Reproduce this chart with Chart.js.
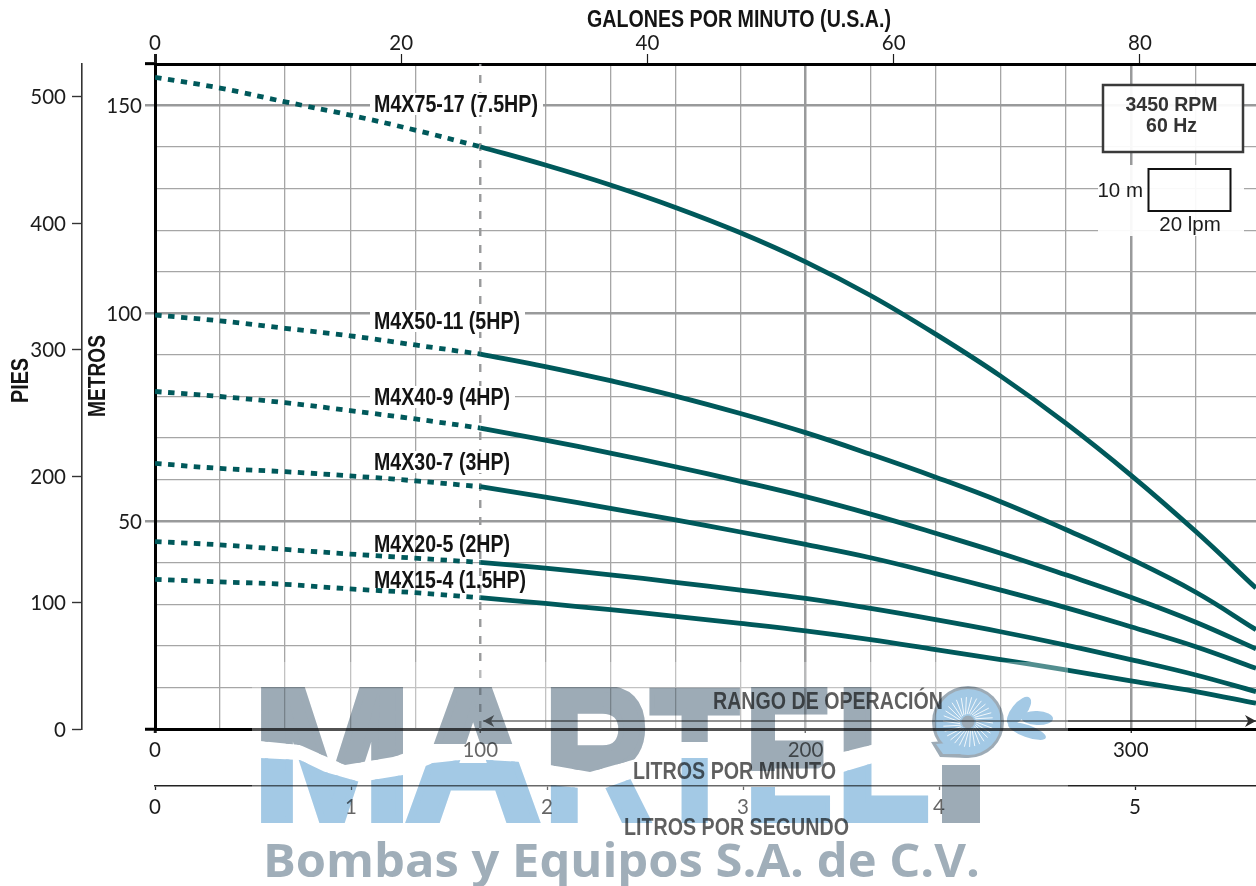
<!DOCTYPE html>
<html lang="es">
<head>
<meta charset="utf-8">
<title>Curvas M4X 3450 RPM</title>
<style>
    html, body { margin: 0; padding: 0; background: #fff; }
    canvas { display: block; }
</style>
<script src="https://cdn.jsdelivr.net/npm/chart.js@4/dist/chart.umd.js"></script>
</head>
<body>
<canvas id="chart" width="1256" height="886"></canvas>
<script>
/* =========================================
   1. Data
   ========================================= */
const lpmDashed = [0, 20, 40, 60, 80, 100];
const lpmSolid = [100, 120, 140, 160, 180, 200, 220, 240, 260, 280, 300, 320, 338.5];

const models = ['M4X75-17 (7.5HP)', 'M4X50-11 (5HP)', 'M4X40-9 (4HP)', 'M4X30-7 (3HP)', 'M4X20-5 (2HP)', 'M4X15-4 (1.5HP)'];

// Head in metres, dashed part up to 100 lpm
const m75Dashed = [156.8, 154.2, 150.9, 147.7, 144.1, 140.1];
const m50Dashed = [99.6, 98.2, 96.4, 94.6, 92.4, 90.2];
const m40Dashed = [81.2, 80.0, 78.5, 76.6, 74.6, 72.4];
const m30Dashed = [63.9, 62.7, 61.9, 60.9, 59.7, 58.3];
const m20Dashed = [45.1, 44.3, 43.2, 42.1, 41.1, 40.1];
const m15Dashed = [36.0, 35.4, 34.8, 33.7, 32.8, 31.6];

// Head in metres, operating range
const m75Solid = [140.1, 135.7, 130.9, 125.5, 119.4, 112.4, 104.3, 95.0, 84.9, 73.6, 61.1, 47.5, 33.9];
const m50Solid = [90.2, 87.2, 83.8, 80.1, 75.9, 71.3, 66.1, 60.6, 54.7, 48.0, 40.9, 32.9, 23.9];
const m40Solid = [72.4, 69.5, 66.4, 63.1, 59.6, 55.9, 51.7, 47.1, 42.3, 37.1, 31.7, 25.7, 19.3];
const m30Solid = [58.3, 55.8, 53.1, 50.3, 47.4, 44.4, 41.2, 37.4, 33.4, 29.2, 24.6, 19.8, 14.6];
const m20Solid = [40.1, 38.7, 37.1, 35.3, 33.4, 31.4, 29.0, 26.3, 23.4, 20.2, 16.7, 13.0, 9.0];
const m15Solid = [31.6, 30.2, 28.7, 27.1, 25.4, 23.6, 21.5, 19.1, 16.7, 14.2, 11.6, 9.0, 6.2];

const operatingRange = [100, 338.5];

/* =========================================
   2. Axis ranges and helpers
   ========================================= */
const LPM_MAX = 338.5;
const M_MAX = 160;
const FT_MAX = 526;
const TEAL = '#00595b';
const GRID = '#a6a6a6';
const GRID_DARK = '#999a9b';
const TICK_FONT = { family: 'Lato', size: 20.5 };
const TICK_COLOR = '#1c1c1c';

const pairs = (xs, ys) => xs.map((x, i) => ({ x: x, y: ys[i] }));

function curve(xs, ys, dashed) {
    return {
        data: pairs(xs, ys),
        borderColor: TEAL,
        borderWidth: 4.8,
        borderDash: dashed ? [6.5, 6.5] : [],
        borderCapStyle: 'butt',
        tension: 0.4,
        pointRadius: 0,
        fill: false,
        xAxisID: 'x',
        yAxisID: 'y'
    };
}

// Bold condensed label, squeezed to the width it has in the picture
function fitText(ctx, text, x, y, width, size) {
    ctx.save();
    ctx.font = 'bold ' + size + 'px "Liberation Sans"';
    ctx.textBaseline = 'middle';
    ctx.textAlign = 'left';
    const w = ctx.measureText(text).width;
    ctx.translate(x, y);
    ctx.scale(width / w, 1);
    ctx.fillText(text, 0, 2);
    ctx.restore();
}

// Logo is painted on its own layer, then multiplied over the chart
function buildLogo() {
    const layer = document.createElement('canvas');
    layer.width = 1256;
    layer.height = 886;
    const ctx = layer.getContext('2d');
    const GRAY = '#9dabb6';
    const BLUE = '#a3c9e5';

    // wave that splits the letters in two colours
    const waveTop = [[260, 741], [300, 745], [345, 765], [393, 757], [433, 744], [515, 744], [550, 765], [590, 772], [650, 755], [676, 742], [714, 742], [750, 771], [815, 771], [843, 752], [883, 742], [935, 742]];
    const waveLow = [[260, 758], [300, 760], [325, 772], [360, 782], [403, 775], [433, 763], [470, 759], [540, 763], [550, 785], [600, 790], [650, 772], [676, 758], [714, 758], [750, 787], [815, 787], [843, 772], [883, 760], [935, 760]];
    const letters = [['M', 264, 400], ['A', 409, 537], ['R', 553, 648], ['T', 652, 738], ['E', 753, 828], ['L', 846, 926]];

    function drawLetters(color) {
        ctx.fillStyle = color;
        ctx.strokeStyle = color;
        ctx.lineWidth = 7;
        ctx.lineJoin = 'miter';
        ctx.font = 'bold 190px "Liberation Sans"';
        ctx.textAlign = 'left';
        ctx.textBaseline = 'alphabetic';
        letters.forEach(l => {
            const m = ctx.measureText(l[0]);
            const h = m.actualBoundingBoxAscent + m.actualBoundingBoxDescent;
            const w = m.actualBoundingBoxLeft + m.actualBoundingBoxRight;
            ctx.save();
            ctx.translate(l[1], 820);
            ctx.scale((l[2] - l[1]) / w, 130 / h);
            ctx.fillText(l[0], m.actualBoundingBoxLeft, 0);
            ctx.strokeText(l[0], m.actualBoundingBoxLeft, 0);
            ctx.restore();
        });
    }

    ctx.save();
    ctx.beginPath();
    ctx.moveTo(250, 687);
    waveTop.forEach(p => ctx.lineTo(p[0], p[1]));
    ctx.lineTo(935, 687);
    ctx.closePath();
    ctx.clip();
    drawLetters(GRAY);
    ctx.restore();

    ctx.save();
    ctx.beginPath();
    ctx.moveTo(250, 823);
    waveLow.forEach(p => ctx.lineTo(p[0], p[1]));
    ctx.lineTo(935, 823);
    ctx.closePath();
    ctx.clip();
    drawLetters(BLUE);
    ctx.restore();

    // the I: stem plus pump as its dot
    ctx.fillStyle = GRAY;
    ctx.fillRect(942, 765, 38, 58);

    ctx.fillStyle = GRAY;
    ctx.beginPath();
    ctx.moveTo(931, 742);
    ctx.lineTo(946, 741);
    ctx.lineTo(968, 758);
    ctx.lineTo(940, 757);
    ctx.closePath();
    ctx.fill();
    ctx.beginPath();
    ctx.arc(968, 722, 36, 0, Math.PI * 2);
    ctx.fill();
    ctx.fillStyle = BLUE;
    ctx.beginPath();
    ctx.arc(968, 722, 33, 0, Math.PI * 2);
    ctx.fill();
    ctx.beginPath();
    ctx.moveTo(936, 744);
    ctx.lineTo(948, 743);
    ctx.lineTo(962, 754);
    ctx.lineTo(943, 754);
    ctx.closePath();
    ctx.fill();

    ctx.strokeStyle = 'rgba(255,255,255,0.85)';
    ctx.lineWidth = 1;
    for (let a = 0; a < 360; a += 12) {
        const r = a * Math.PI / 180;
        ctx.beginPath();
        ctx.moveTo(968 + Math.cos(r) * 8, 722 + Math.sin(r) * 8);
        ctx.lineTo(968 + Math.cos(r + 0.25) * 25, 722 + Math.sin(r + 0.25) * 25);
        ctx.stroke();
    }
    ctx.fillStyle = GRAY;
    ctx.beginPath();
    ctx.arc(968, 722, 6.5, 0, Math.PI * 2);
    ctx.fill();

    // splash
    ctx.fillStyle = BLUE;
    [[1019, 711, 17, 7.5, -0.9], [1037, 718, 16, 7, 0.05], [1027, 731, 20, 6, 0.35]].forEach(d => {
        ctx.beginPath();
        ctx.ellipse(d[0], d[1], d[2], d[3], d[4], 0, Math.PI * 2);
        ctx.fill();
    });

    // company line
    ctx.fillStyle = '#a0aeb9';
    ctx.font = 'bold 46px "Open Sans"';
    ctx.textAlign = 'left';
    ctx.textBaseline = 'alphabetic';
    const txt = 'Bombas y Equipos S.A. de C.V.';
    const tw = ctx.measureText(txt).width;
    ctx.save();
    ctx.translate(263, 877);
    ctx.scale(717 / tw, 1);
    ctx.fillText(txt, 0, 0);
    ctx.restore();

    return layer;
}

/* =========================================
   3. Plugins: labels, boxes, range arrow, logo
   ========================================= */
const annotations = {
    id: 'annotations',
    afterDatasetsDraw(chart) {
        const ctx = chart.ctx;
        const sx = chart.scales.x;

        // model names, first four mask the grid behind them
        const labelY = [104, 321, 397, 462, 544, 580];
        const labelW = [164, 146, 136, 136, 136, 152];
        models.forEach((name, i) => {
            if (i < 4) {
                ctx.fillStyle = '#fff';
                ctx.fillRect(370, labelY[i] - 11, labelW[i] + 9, 22);
            }
            ctx.fillStyle = '#141414';
            fitText(ctx, name, 374, labelY[i], labelW[i], 23.5);
        });

        // axis titles
        ctx.fillStyle = '#141414';
        fitText(ctx, 'GALONES POR MINUTO (U.S.A.)', 587, 19, 304, 23.5);
        fitText(ctx, 'LITROS POR MINUTO', 633, 771, 203, 23.5);
        fitText(ctx, 'LITROS POR SEGUNDO', 624, 827, 225, 23.5);
        fitText(ctx, 'RANGO DE OPERACIÓN', 713, 701, 230, 23.5);
        ctx.save();
        ctx.translate(97, 417);
        ctx.rotate(-Math.PI / 2);
        fitText(ctx, 'METROS', 0, 0, 82, 23.5);
        ctx.restore();
        ctx.save();
        ctx.translate(20, 403);
        ctx.rotate(-Math.PI / 2);
        fitText(ctx, 'PIES', 0, 0, 45, 23.5);
        ctx.restore();

        // range arrow
        const ax0 = sx.getPixelForValue(operatingRange[0]) + 3;
        const ax1 = sx.getPixelForValue(operatingRange[1]);
        const ay = 721;
        ctx.strokeStyle = '#2b2b2b';
        ctx.lineWidth = 1.5;
        ctx.beginPath();
        ctx.moveTo(ax0, ay);
        ctx.lineTo(ax1, ay);
        ctx.stroke();
        ctx.fillStyle = '#2b2b2b';
        [[ax0, 11], [ax1, -11]].forEach(h => {
            ctx.beginPath();
            ctx.moveTo(h[0], ay);
            ctx.lineTo(h[0] + h[1], ay - 6);
            ctx.lineTo(h[0] + h[1] * 0.7, ay);
            ctx.lineTo(h[0] + h[1], ay + 6);
            ctx.closePath();
            ctx.fill();
        });

        // speed box
        ctx.fillStyle = 'rgba(255,255,255,0.93)';
        ctx.fillRect(1098, 165, 146, 71);
        ctx.fillRect(1103, 85, 140, 67);
        ctx.strokeStyle = '#3a3a3a';
        ctx.lineWidth = 2.5;
        ctx.strokeRect(1103, 85, 140, 67);
        ctx.fillStyle = '#333';
        ctx.font = 'bold 19.5px "Liberation Sans"';
        ctx.textAlign = 'center';
        ctx.textBaseline = 'middle';
        ctx.fillText('3450 RPM', 1171.5, 106);
        ctx.fillText('60 Hz', 1171.5, 126.5);

        // scale key
        ctx.strokeStyle = '#111';
        ctx.lineWidth = 2;
        ctx.strokeRect(1148.5, 169, 82, 42);
        ctx.fillStyle = '#1c1c1c';
        ctx.font = '20.5px "Liberation Sans"';
        ctx.textAlign = 'right';
        ctx.fillText('10 m', 1143, 191);
        ctx.textAlign = 'center';
        ctx.fillText('20 lpm', 1190, 225);
    },
    afterDraw(chart) {
        const ctx = chart.ctx;
        ctx.save();
        // washed out band under the logo
        ctx.fillStyle = 'rgba(255,255,255,0.32)';
        ctx.fillRect(252, 662, 816, 224);
        ctx.globalCompositeOperation = 'multiply';
        ctx.drawImage(buildLogo(), 0, 0);
        ctx.restore();
    }
};

/* =========================================
   4. Chart
   ========================================= */
const datasets = [
    curve(lpmSolid, m75Solid), curve(lpmDashed, m75Dashed, true),
    curve(lpmSolid, m50Solid), curve(lpmDashed, m50Dashed, true),
    curve(lpmSolid, m40Solid), curve(lpmDashed, m40Dashed, true),
    curve(lpmSolid, m30Solid), curve(lpmDashed, m30Dashed, true),
    curve(lpmSolid, m20Solid), curve(lpmDashed, m20Dashed, true),
    curve(lpmSolid, m15Solid), curve(lpmDashed, m15Dashed, true),
    {
        // start of the operating range
        data: pairs([100, 100], [0, M_MAX]),
        borderColor: GRID_DARK,
        borderWidth: 2.4,
        borderDash: [8, 9],
        pointRadius: 0,
        order: 5,
        xAxisID: 'x',
        yAxisID: 'y'
    }
];

new Chart(document.getElementById('chart'), {
    type: 'line',
    data: { datasets: datasets },
    plugins: [annotations],
    options: {
        responsive: false,
        animation: false,
        layout: { padding: 0 },
        plugins: { legend: { display: false }, tooltip: { enabled: false } },
        scales: {
            x: {
                type: 'linear',
                position: 'bottom',
                weight: 1,
                min: 0,
                max: LPM_MAX,
                afterFit: s => { s.height = 57; },
                border: { display: true, color: '#000', width: 3 },
                grid: {
                    color: c => (c.tick.value === 100 || c.tick.value === 0) ? 'transparent' : (c.tick.value % 100 === 0 ? GRID_DARK : GRID),
                    lineWidth: c => c.tick.value % 100 === 0 ? 2.5 : 1.3,
                    tickColor: c => c.tick.value % 100 === 0 ? '#1c1c1c' : 'transparent',
                    tickWidth: c => c.tick.value === 0 ? 3 : 1.3,
                    tickLength: 4
                },
                ticks: {
                    stepSize: 20,
                    autoSkip: false,
                    includeBounds: false,
                    maxRotation: 0,
                    padding: 5,
                    color: TICK_COLOR,
                    font: TICK_FONT,
                    callback: v => v % 100 === 0 ? String(v) : ''
                }
            },
            xGpm: {
                type: 'linear',
                axis: 'x',
                position: 'top',
                min: 0,
                max: LPM_MAX / 3.785,
                afterFit: s => { s.height = 64; },
                border: { display: true, color: '#000', width: 3 },
                grid: {
                    drawOnChartArea: false,
                    tickColor: '#1c1c1c',
                    tickWidth: c => c.tick.value === 0 ? 3 : 1.2,
                    tickLength: 10
                },
                ticks: {
                    stepSize: 20,
                    autoSkip: false,
                    includeBounds: false,
                    maxRotation: 0,
                    padding: -2,
                    color: TICK_COLOR,
                    font: TICK_FONT
                }
            },
            xLps: {
                type: 'linear',
                axis: 'x',
                position: 'bottom',
                weight: 2,
                min: 0,
                max: 5.617,
                afterFit: s => { s.height = 100; },
                border: { display: true, color: '#222', width: 1.6 },
                grid: {
                    drawOnChartArea: false,
                    tickColor: '#222',
                    tickWidth: 1.3,
                    tickLength: 4
                },
                ticks: {
                    stepSize: 1,
                    autoSkip: false,
                    includeBounds: false,
                    maxRotation: 0,
                    padding: 5,
                    color: TICK_COLOR,
                    font: TICK_FONT
                }
            },
            y: {
                type: 'linear',
                position: 'left',
                weight: 1,
                min: 0,
                max: M_MAX,
                afterFit: s => { s.width = 73; },
                border: { display: true, color: '#000', width: 3 },
                grid: {
                    color: c => (c.tick.value === 0 || c.tick.value === M_MAX) ? 'transparent' : (c.tick.value % 50 === 0 ? GRID_DARK : GRID),
                    lineWidth: c => c.tick.value % 50 === 0 ? 2.5 : 1.3,
                    tickColor: c => {
                        const v = c.tick.value;
                        if (v === 0 || v === M_MAX) return '#000';
                        return v % 50 === 0 ? GRID_DARK : 'transparent';
                    },
                    tickWidth: c => (c.tick.value === 0 || c.tick.value === M_MAX) ? 3 : 2.5,
                    tickLength: 10
                },
                ticks: {
                    stepSize: 10,
                    autoSkip: false,
                    padding: 3,
                    labelOffset: 1,
                    color: TICK_COLOR,
                    font: TICK_FONT,
                    callback: v => (v % 50 === 0 && v !== 0) ? String(v) : ''
                }
            },
            yFt: {
                type: 'linear',
                axis: 'y',
                position: 'left',
                weight: 2,
                min: 0,
                max: FT_MAX,
                afterFit: s => { s.width = 82; },
                border: { display: true, color: '#333', width: 1.6 },
                grid: {
                    drawOnChartArea: false,
                    tickColor: '#333',
                    tickWidth: 1.4,
                    tickLength: 10
                },
                ticks: {
                    stepSize: 100,
                    autoSkip: false,
                    includeBounds: false,
                    padding: 6,
                    labelOffset: 1,
                    color: TICK_COLOR,
                    font: TICK_FONT
                }
            }
        }
    }
});
</script>
</body>
</html>
